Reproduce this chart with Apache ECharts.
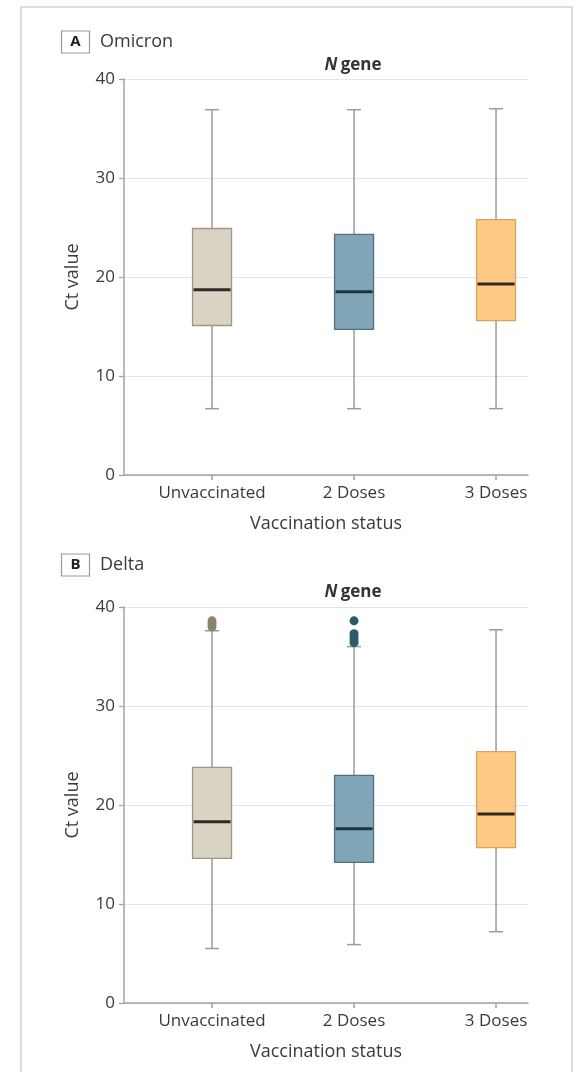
<!DOCTYPE html>
<html><head><meta charset="utf-8">
<script src="https://cdn.jsdelivr.net/npm/echarts@6/dist/echarts.min.js"></script>
<style>html,body{margin:0;padding:0;background:#fff}#c{width:580px;height:1072px}</style>
</head><body><div id="c"></div>
<script>
// ---- data ----
const categories = ['Unvaccinated', '2 Doses', '3 Doses'];
const positions = [1, 2, 3];
const yTicks = [0, 10, 20, 30, 40];
// Panel A: Omicron, N gene
const omiMin = [6.7, 6.7, 6.7];
const omiQ1 = [15.1, 14.7, 15.6];
const omiMedian = [18.7, 18.5, 19.3];
const omiQ3 = [24.9, 24.3, 25.8];
const omiMax = [36.9, 36.9, 37.0];
// Panel B: Delta, N gene
const delMin = [5.5, 5.9, 7.2];
const delQ1 = [14.6, 14.2, 15.7];
const delMedian = [18.3, 17.6, 19.1];
const delQ3 = [23.8, 23.0, 25.4];
const delMax = [37.6, 36.0, 37.7];
const delOutUnvacc = [38.6, 38.3, 38.0];
const delOut2Doses = [38.6, 37.3, 37.0, 36.7, 36.4];

// ---- styles ----
const FONT = '"Open Sans", sans-serif';
const FILLS = ['#d9d3c4', '#80a5b6', '#fec984'];
const BORDERS = ['#9d978a', '#4f7184', '#d5a566'];
const MEDIANS = ['#2e2b27', '#1d3540', '#2e2a22'];
const OUTLIER = ['#8a8173', '#2b5a6d'];
const BOX_W = 39, CAP_W = 14;
const AXIS_C = '#a3a3a3';
const TXT = '#3a3a3a';

function boxSeries(idx, mins, q1s, meds, q3s, maxs) {
  const data = positions.map((p, i) => [p, mins[i], q1s[i], meds[i], q3s[i], maxs[i]]);
  return {
    type: 'custom', xAxisIndex: idx, yAxisIndex: idx, z: 2,
    encode: { x: 0, y: [1, 2, 3, 4, 5] },
    data,
    renderItem(params, api) {
      const i = params.dataIndex;
      const x = api.value(0);
      const pMin = api.coord([x, api.value(1)]);
      const pQ1 = api.coord([x, api.value(2)]);
      const pMed = api.coord([x, api.value(3)]);
      const pQ3 = api.coord([x, api.value(4)]);
      const pMax = api.coord([x, api.value(5)]);
      const cx = pMed[0], hw = BOX_W / 2, cw = CAP_W / 2;
      const ws = { stroke: '#9b9b9b', lineWidth: 1.5 };
      return { type: 'group', children: [
        { type: 'line', shape: { x1: cx, y1: pMax[1], x2: cx, y2: pQ3[1] }, style: ws },
        { type: 'line', shape: { x1: cx, y1: pQ1[1], x2: cx, y2: pMin[1] }, style: ws },
        { type: 'line', shape: { x1: cx - cw, y1: pMax[1], x2: cx + cw, y2: pMax[1] }, style: ws },
        { type: 'line', shape: { x1: cx - cw, y1: pMin[1], x2: cx + cw, y2: pMin[1] }, style: ws },
        { type: 'rect', shape: { x: cx - hw, y: pQ3[1], width: BOX_W, height: pQ1[1] - pQ3[1] },
          style: { fill: FILLS[i], stroke: BORDERS[i], lineWidth: 1.3 } },
        { type: 'line', shape: { x1: cx - hw + 1, y1: pMed[1], x2: cx + hw - 1, y2: pMed[1] },
          style: { stroke: MEDIANS[i], lineWidth: 3 } }
      ]};
    }
  };
}

function xAx(g) {
  return {
    type: 'value', gridIndex: g, min: 0.38, max: 3.225,
    axisLine: { show: true, onZero: false, lineStyle: { color: AXIS_C, width: 1.5 } },
    axisTick: { show: true, customValues: positions, length: 5, lineStyle: { color: AXIS_C, width: 1.5 } },
    axisLabel: { customValues: positions, formatter: v => categories[positions.indexOf(v)] || '',
      color: TXT, fontSize: 17, margin: 10, fontFamily: FONT },
    splitLine: { show: false },
    name: 'Vaccination status', nameLocation: 'middle', nameGap: 40,
    nameTextStyle: { color: TXT, fontSize: 18, fontFamily: FONT }
  };
}
function yAx(g) {
  return {
    type: 'value', gridIndex: g, min: yTicks[0], max: yTicks[yTicks.length - 1], interval: 10,
    axisLine: { show: true, lineStyle: { color: AXIS_C, width: 1.5 } },
    axisTick: { show: true, length: 5, lineStyle: { color: AXIS_C, width: 1.3 } },
    axisLabel: { color: TXT, fontSize: 17, margin: 9, fontFamily: FONT },
    splitLine: { show: true, lineStyle: { color: '#e3e3e3', width: 1.2 } },
    name: 'Ct value', nameLocation: 'middle', nameGap: 42,
    nameTextStyle: { color: TXT, fontSize: 18, fontFamily: FONT }
  };
}

function panelLabel(letter, name, yc, titleY) {
  return [
    { type: 'rect', shape: { x: 61.5, y: yc - 11, width: 28, height: 22 },
      style: { fill: 'none', stroke: '#9a9a9a', lineWidth: 1.2 } },
    { type: 'text', x: 75.5, y: yc, style: { text: letter, fontFamily: FONT, fontWeight: 'bold',
      fontSize: 15, fill: '#222', align: 'center', verticalAlign: 'middle' } },
    { type: 'text', x: 100, y: yc, style: { text: name, fontFamily: FONT, fontSize: 18,
      fill: TXT, align: 'left', verticalAlign: 'middle' } },
    { type: 'text', x: 353, y: titleY, style: {
      text: '{n|N} {g|gene}', align: 'center', verticalAlign: 'middle',
      rich: {
        n: { fontFamily: FONT, fontWeight: 'bold', fontStyle: 'italic', fontSize: 17, fill: '#333' },
        g: { fontFamily: FONT, fontWeight: 'bold', fontSize: 17, fill: '#333' }
      } } }
  ];
}

const chart = echarts.init(document.getElementById('c'), null, { renderer: 'canvas' });
chart.setOption({
  animation: false,
  backgroundColor: '#fff',
  textStyle: { fontFamily: FONT },
  grid: [
    { left: 124, top: 79, width: 404, height: 396 },
    { left: 124, top: 607, width: 404, height: 396 }
  ],
  xAxis: [xAx(0), xAx(1)],
  yAxis: [yAx(0), yAx(1)],
  series: [
    boxSeries(0, omiMin, omiQ1, omiMedian, omiQ3, omiMax),
    boxSeries(1, delMin, delQ1, delMedian, delQ3, delMax),
    { type: 'scatter', xAxisIndex: 1, yAxisIndex: 1, z: 3, symbolSize: 9,
      itemStyle: { color: OUTLIER[0], opacity: 1 },
      data: delOutUnvacc.map(v => [positions[0], v]) },
    { type: 'scatter', xAxisIndex: 1, yAxisIndex: 1, z: 3, symbolSize: 9,
      itemStyle: { color: OUTLIER[1], opacity: 1 },
      data: delOut2Doses.map(v => [positions[1], v]) }
  ],
  graphic: [
    { type: 'rect', shape: { x: 21, y: 7, width: 551, height: 1100 },
      style: { fill: 'none', stroke: '#d2d2d2', lineWidth: 1.5 }, z: -1 },
    ...panelLabel('A', 'Omicron', 42, 65),
    ...panelLabel('B', 'Delta', 565, 592)
  ]
});
</script></body></html>
